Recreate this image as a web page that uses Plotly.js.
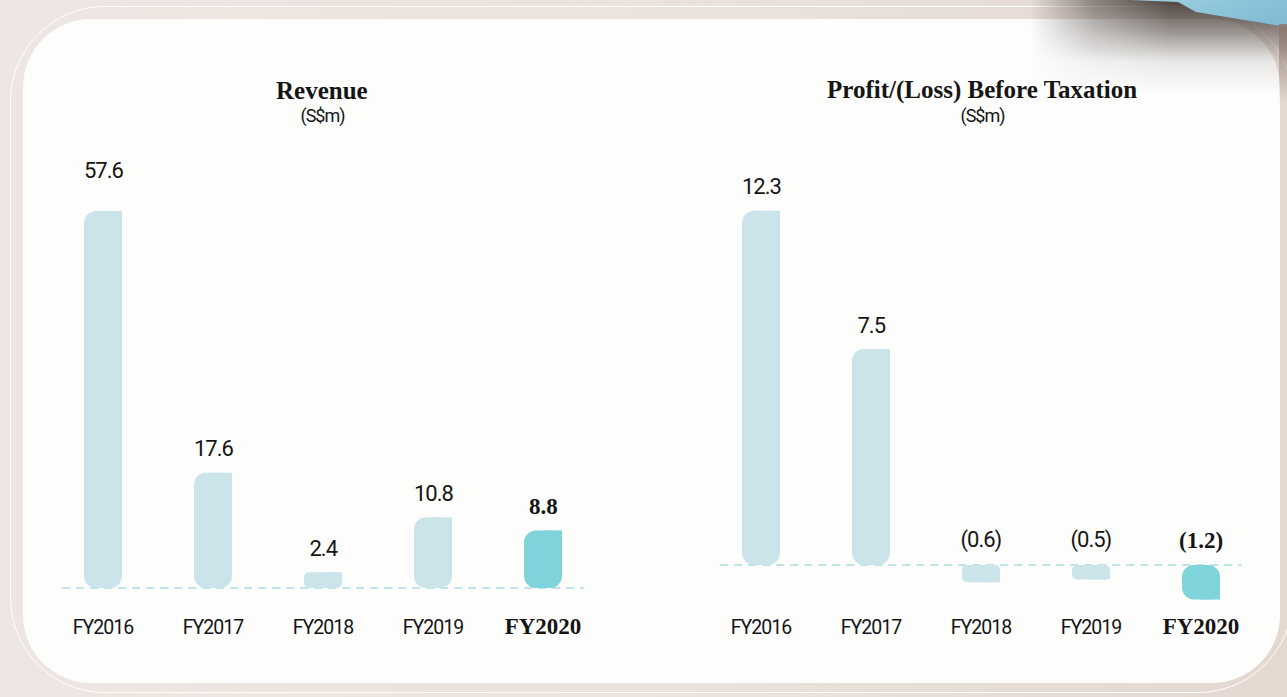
<!DOCTYPE html>
<html>
<head>
<meta charset="utf-8">
<script src="https://cdn.plot.ly/plotly-3.0.1.min.js"></script>
<style>
html, body { margin:0; padding:0; width:1287px; height:697px; overflow:hidden; }
body { position:relative; background:linear-gradient(90deg,#ede6e2 0%,#eae2dc 55%,#e4d8d1 100%); }
#line { position:absolute; left:10px; top:6px; width:1283px; height:687px; box-sizing:border-box;
        border:1.5px solid rgba(255,255,255,0.95); border-radius:95px; }
#card { position:absolute; left:23px; top:19px; width:1257px; height:664px; background:#fdfdfc; border-radius:68px; }
#shade { position:absolute; left:1030px; top:0px; width:257px; height:95px;
         background:linear-gradient(180deg, rgba(60,52,48,0.9) 0%, rgba(100,90,85,0.7) 30%, rgba(190,185,182,0.3) 65%, rgba(255,255,255,0) 100%);
         -webkit-mask-image:linear-gradient(90deg, transparent 0%, rgba(0,0,0,0.6) 25%, black 55%, black 100%);
         mask-image:linear-gradient(90deg, transparent 0%, rgba(0,0,0,0.6) 25%, black 55%, black 100%); }
#paper { position:absolute; left:1130px; top:0px; width:157px; height:30px;
         background:linear-gradient(160deg,#a3d0e2 0%,#8cc4da 50%,#80b8d0 100%);
         clip-path:polygon(0px 0px, 48px 2px, 66px 12px, 157px 27px, 157px 0px); }
#edge { position:absolute; left:1279px; top:24px; width:8px; height:80px;
        background:linear-gradient(180deg, rgba(140,120,110,0.85), rgba(225,212,205,0)); }
#chart { position:absolute; left:0; top:0; width:1287px; height:697px; }
#chart text[style*="Roboto"] { letter-spacing:-1px; }
#chart tspan[style*="Liberation Serif"] { letter-spacing:0px; }
</style>
</head>
<body>
<div id="line"></div>
<div id="card"></div>
<div id="shade"></div>
<div id="paper"></div>
<div id="edge"></div>
<div id="chart"></div>
<script>
// ---- data ----
const categories = ['FY2016', 'FY2017', 'FY2018', 'FY2019', 'FY2020'];
const revenue = [57.6, 17.6, 2.4, 10.8, 8.8];
const profitBeforeTax = [12.3, 7.5, -0.6, -0.5, -1.2];
const highlightCategory = 'FY2020';
const chartTitles = ['Revenue', 'Profit/(Loss) Before Taxation'];
const unitLabel = '(S$m)';

// ---- style ----
const W = 1287, H = 697;
const SANS = 'Roboto, "Liberation Sans", sans-serif';
const SERIF = '"Liberation Serif", "DejaVu Serif", serif';
const INK = '#151515';
const BAR = '#cbe4e9';
const BAR_HI = '#7fd4db';
const DASH = '#a9dce4';
const BW = 0.345, R = 12, R_SMALL = 5;

function fmt(v) { return v < 0 ? '(' + Math.abs(v).toFixed(1) + ')' : v.toFixed(1); }

// bars: a rounded bar plus a square patch on the right half of its far end
function barTraces(values, xa, ya, pxPerUnit) {
  const idx = values.map((_, i) => i);
  const groups = [
    { ids: idx.filter(i => Math.abs(values[i]) * pxPerUnit >= 2 * R), r: R },
    { ids: idx.filter(i => Math.abs(values[i]) * pxPerUnit < 2 * R), r: R_SMALL }
  ];
  const out = [];
  groups.forEach(g => {
    if (!g.ids.length) return;
    const xs = g.ids;
    const vs = g.ids.map(i => values[i]);
    const col = g.ids.map(i => categories[i] === highlightCategory ? BAR_HI : BAR);
    const common = { type: 'bar', x: xs, xaxis: xa, yaxis: ya, hoverinfo: 'skip', showlegend: false };
    out.push(Object.assign({}, common, { y: vs, base: vs.map(() => 0),
      width: BW, offset: -BW / 2, marker: { color: col, cornerradius: g.r, line: { width: 0 } } }));
    out.push(Object.assign({}, common, { y: vs.map(v => v / 2), base: vs.map(v => v / 2),
      width: BW / 2, offset: 0, marker: { color: col, cornerradius: 0, line: { width: 0 } } }));
  });
  return out;
}

function tickText() {
  return categories.map(c => c === highlightCategory
    ? '<span style="font-family:Liberation Serif;font-weight:bold;font-size:23px">' + c + '</span>' : c);
}

function valueAnnotations(values, xa, ya, bigShiftIndex) {
  return values.map((v, i) => {
    const hi = categories[i] === highlightCategory;
    return {
      xref: xa, yref: ya, x: i, y: Math.max(v, 0), text: hi ? '<b>' + fmt(v) + '</b>' : fmt(v),
      showarrow: false, xanchor: 'center', yanchor: 'middle',
      yshift: (i === bigShiftIndex ? 41 : (v < 0 ? 25 : 24)),
      font: hi ? { family: SERIF, size: 23, color: INK } : { family: SANS, size: 22, color: INK }
    };
  });
}

// pixel layout of the two panels
const plotTop = 200, plotBottom = 610;
const revZero = 588, revPx = 6.545;
const prfZero = 565, prfPx = 28.8;
const yRange = (zero, px) => [-(plotBottom - zero) / px, -(plotBottom - zero) / px + (plotBottom - plotTop) / px];

const axisX = (l, r, anchor) => ({
  domain: [l / W, r / W], range: [-0.5, 4.5], anchor: anchor,
  showgrid: false, zeroline: false, showline: false, ticks: '', ticklabelstandoff: 3,
  tickmode: 'array', tickvals: categories.map((_, i) => i), ticktext: tickText(),
  tickfont: { family: SANS, size: 19.5, color: INK }, fixedrange: true
});
const axisY = (range, anchor) => ({
  domain: [(H - plotBottom) / H, (H - plotTop) / H], range: range, anchor: anchor,
  visible: false, showgrid: false, zeroline: false, fixedrange: true
});

const titleAnn = (x, text) => ([
  { xref: 'paper', yref: 'paper', x: x / W, y: 1 - 90 / H, text: '<b>' + text + '</b>', showarrow: false,
    xanchor: 'center', yanchor: 'middle', font: { family: SERIF, size: 25, color: INK } },
  { xref: 'paper', yref: 'paper', x: x / W, y: 1 - 116 / H, text: unitLabel, showarrow: false,
    xanchor: 'center', yanchor: 'middle', font: { family: SANS, size: 18, color: INK } }
]);

const zeroLine = (xa, ya) => ({
  type: 'line', xref: xa, yref: ya, x0: -0.37, x1: 4.37, y0: 0, y1: 0, layer: 'below',
  line: { color: DASH, width: 1.5, dash: '8px,6px' }
});

const data = [].concat(barTraces(revenue, 'x', 'y', revPx), barTraces(profitBeforeTax, 'x2', 'y2', prfPx));

const layout = {
  width: W, height: H, margin: { l: 0, r: 0, t: 0, b: 0 },
  paper_bgcolor: 'rgba(0,0,0,0)', plot_bgcolor: 'rgba(0,0,0,0)',
  barmode: 'overlay', showlegend: false,
  xaxis: axisX(48, 598, 'y'), yaxis: axisY(yRange(revZero, revPx), 'x'),
  xaxis2: axisX(706, 1256, 'y2'), yaxis2: axisY(yRange(prfZero, prfPx), 'x2'),
  shapes: [zeroLine('x', 'y'), zeroLine('x2', 'y2')],
  annotations: [].concat(
    titleAnn(322, chartTitles[0]), titleAnn(982, chartTitles[1]),
    valueAnnotations(revenue, 'x', 'y', 0), valueAnnotations(profitBeforeTax, 'x2', 'y2', -1)
  )
};

Plotly.newPlot('chart', data, layout, { displayModeBar: false, staticPlot: true });
</script>
</body>
</html>
